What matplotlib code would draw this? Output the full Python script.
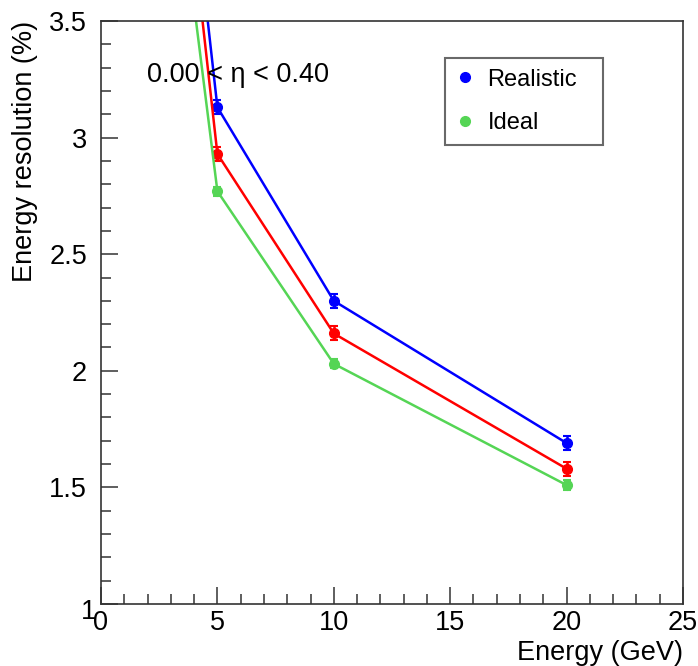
import matplotlib
matplotlib.use("Agg")
import matplotlib.pyplot as plt
from matplotlib.ticker import MultipleLocator
from matplotlib.lines import Line2D
import matplotlib.transforms as mtransforms

energy = [1, 5, 10, 20]
realistic = [6.70, 3.13, 2.30, 1.69]
realistic_err = [0.05, 0.03, 0.03, 0.03]
middle = [6.50, 2.93, 2.16, 1.58]
middle_err = [0.05, 0.03, 0.03, 0.03]
ideal = [5.95, 2.77, 2.03, 1.51]
ideal_err = [0.05, 0.02, 0.02, 0.02]

plt.rcParams['font.family'] = ['Liberation Sans', 'DejaVu Sans']

fig = plt.figure(figsize=(6.98, 6.66), dpi=100)
# axes: x 101..683 px, y 21..604 px
ax = fig.add_axes([101 / 698, (666 - 604) / 666, 582 / 698, 583 / 666])

def draw(y, e, c, lab):
    ax.errorbar(energy, y, yerr=e, color=c, marker='o', ms=7, lw=1.8,
                elinewidth=1.8, capsize=3, capthick=1.5, label=lab)

draw(realistic, realistic_err, '#0000ff', 'Realistic')
draw(middle, middle_err, '#ff0000', None)
draw(ideal, ideal_err, '#55d555', 'Ideal')

ax.set_xlim(0, 25)
ax.set_ylim(1, 3.5)
ax.xaxis.set_major_locator(MultipleLocator(5))
ax.xaxis.set_minor_locator(MultipleLocator(1))
ax.yaxis.set_minor_locator(MultipleLocator(0.1))
ax.set_yticks([1, 1.5, 2, 2.5, 3, 3.5])
ax.set_yticklabels(['1', '1.5', '2', '2.5', '3', '3.5'])
ax.tick_params(which='both', direction='in', top=False, right=False,
               labelsize=19.5, colors='#333333', labelcolor='black')
ax.tick_params(which='major', length=12.5, width=1.1)
ax.tick_params(which='minor', length=7, width=1.1)
ax.tick_params(axis='y', pad=10)
ax.tick_params(axis='x', pad=4)
for s in ax.spines.values():
    s.set_linewidth(1.2)
    s.set_color('#333333')

# ROOT places the lowest y label closer to the axis corner
lbl = ax.get_yticklabels()[0]
lbl.set_transform(lbl.get_transform() +
                  mtransforms.ScaledTranslation(9 / 100, -5 / 100, fig.dpi_scale_trans))

ax.set_xlabel('Energy (GeV)', fontsize=19.5, loc='right', labelpad=3)
ax.set_ylabel('Energy resolution (%)', fontsize=19.5, loc='top', labelpad=8)

ax.text(1.98, 3.27, '0.00 < \u03b7 < 0.40', fontsize=19.5, va='center', ha='left')

handles = [Line2D([], [], ls='none', marker='o', ms=7, color='#0000ff'),
           Line2D([], [], ls='none', marker='o', ms=7, color='#55d555')]
leg = ax.legend(handles, ['Realistic', 'Ideal'], loc='upper left', mode='expand',
                bbox_to_anchor=(344 / 582, 1 - 37 / 583, 158 / 582, 0.0),
                fontsize=17, frameon=True,
                fancybox=False, edgecolor='#444444', borderpad=0.45,
                handlelength=0.8, handletextpad=0.55, labelspacing=0.9,
                borderaxespad=0)
leg.get_frame().set_linewidth(1.5)

fig.savefig('out.png', dpi=100)
